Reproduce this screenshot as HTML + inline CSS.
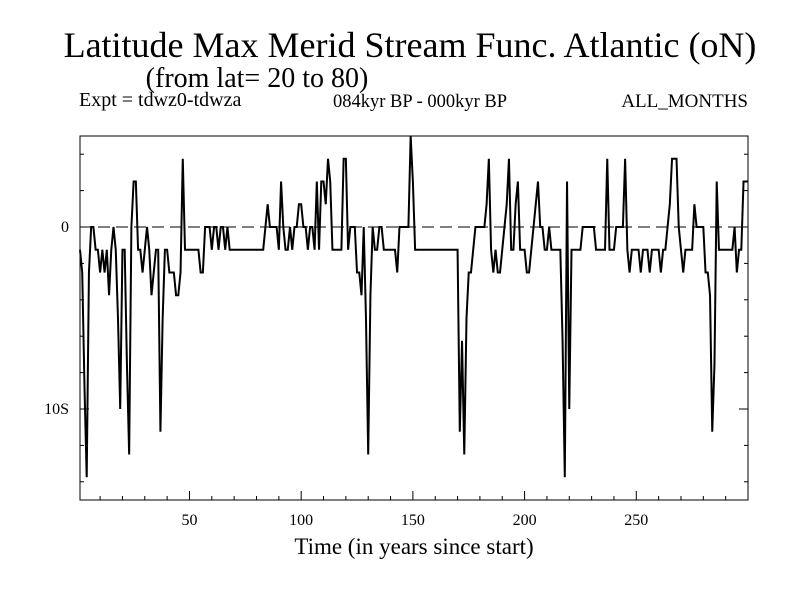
<!DOCTYPE html>
<html><head><meta charset="utf-8"><style>
body{margin:0;background:#fff;}
svg{display:block;font-family:"Liberation Serif",serif;}
</style></head><body>
<svg id="chart" width="800" height="600" viewBox="0 0 800 600">
<rect x="0" y="0" width="800" height="600" fill="#fff"/>
<text x="410" y="57" font-size="36" text-anchor="middle">Latitude Max Merid Stream Func. Atlantic (oN)</text>
<text x="257" y="87" font-size="28" text-anchor="middle">(from lat= 20 to 80)</text>
<text x="79" y="106" font-size="20">Expt = tdwz0-tdwza</text>
<text x="420" y="107" font-size="18.5" text-anchor="middle">084kyr BP - 000kyr BP</text>
<text x="748" y="107" font-size="19" text-anchor="end">ALL_MONTHS</text>
<text x="414" y="554" font-size="23" text-anchor="middle">Time (in years since start)</text>
<g id="axes"></g>
<g id="series"></g>
<rect x="80" y="136" width="668" height="364" fill="none" stroke="#000" stroke-width="1"/>
</svg>
<script>
const years=[];for(let i=1;i<=300;i++)years.push(i);
const values=[
-1.25,-2.5,-8.75,-13.75,-2.5,0,0,-1.25,-1.25,-2.5,
-1.25,-2.5,-1.25,-3.75,-1.25,0,-1.25,-5,-10,-1.25,
-1.25,-7.5,-12.5,0,2.5,2.5,-1.25,-1.25,-2.5,-1.25,
0,-1.25,-3.75,-2.5,-1.25,-1.25,-11.25,-5,-1.25,-1.25,
-2.5,-2.5,-2.5,-3.75,-3.75,-2.5,3.75,-1.25,-1.25,-1.25,
-1.25,-1.25,-1.25,-1.25,-2.5,-2.5,0,0,0,-1.25,
0,0,-1.25,0,0,-1.25,0,-1.25,-1.25,-1.25,
-1.25,-1.25,-1.25,-1.25,-1.25,-1.25,-1.25,-1.25,-1.25,-1.25,
-1.25,-1.25,-1.25,0,1.25,0,0,0,0,-1.25,
2.5,0,-1.25,-1.25,0,-1.25,0,0,1.25,1.25,
0,0,-1.25,0,0,-1.25,2.5,-1.25,2.5,2.5,
1.25,3.75,2.5,-1.25,-1.25,-1.25,-1.25,-1.25,3.75,3.75,
-1.25,0,0,0,-2.5,-2.5,-3.75,0,-5,-12.5,
-3.75,0,-1.25,-1.25,0,0,-1.25,-1.25,-1.25,-1.25,
-1.25,-1.25,-2.5,0,0,0,0,0,5,2.5,
-1.25,-1.25,-1.25,-1.25,-1.25,-1.25,-1.25,-1.25,-1.25,-1.25,
-1.25,-1.25,-1.25,-1.25,-1.25,-1.25,-1.25,-1.25,-1.25,-1.25,
-11.25,-6.25,-12.5,-5,-2.5,-2.5,-1.25,0,0,0,
0,0,1.25,3.75,-1.25,-2.5,-1.25,-2.5,-2.5,-1.25,
0,1.25,3.75,-1.25,-1.25,1.25,2.5,-1.25,-1.25,-1.25,
-2.5,-2.5,-1.25,0,1.25,2.5,0,0,-1.25,-1.25,
0,-1.25,-1.25,-1.25,-1.25,-1.25,-6.25,-13.75,2.5,-10,
-1.25,-1.25,-1.25,-1.25,-1.25,0,0,0,0,0,
0,-1.25,-1.25,-1.25,-1.25,-1.25,3.75,-1.25,-1.25,-1.25,
0,0,0,0,3.75,-1.25,-2.5,-1.25,-1.25,-1.25,
-1.25,-2.5,-1.25,-1.25,-1.25,-2.5,-1.25,-1.25,-1.25,-1.25,
-2.5,-1.25,-1.25,0,1.25,3.75,3.75,3.75,0,-1.25,
-2.5,-1.25,-1.25,-1.25,-1.25,1.25,0,0,0,0,
-2.5,-2.5,-3.75,-11.25,-7.5,2.5,-1.25,-1.25,-1.25,-1.25,
-1.25,-1.25,-1.25,0,-2.5,-1.25,-1.25,2.5,2.5,2.5];
const xTickLabels=[50,100,150,200,250];
const yTickLabels=[{v:0,t:"0"},{v:-10,t:"10S"}];
const X0=80,X1=748,Y0=136,Y1=500,XMIN=1,XMAX=300,YMIN=-15,YMAX=5;
function sx(v){return X0+(v-XMIN)/(XMAX-XMIN)*(X1-X0);}
function sy(v){return Y0+(YMAX-v)/(YMAX-YMIN)*(Y1-Y0);}
const NS="http://www.w3.org/2000/svg";
const ax=document.getElementById('axes');
function line(x1,y1,x2,y2,name,extra){const l=document.createElementNS(NS,'line');l.setAttribute('x1',x1);l.setAttribute('y1',y1);l.setAttribute('x2',x2);l.setAttribute('y2',y2);l.setAttribute('stroke','#000');l.setAttribute('stroke-width','1');if(extra)l.setAttribute('stroke-dasharray',extra);


ax.appendChild(l);return l;}
for(let t=10;t<=300;t+=10){const x=sx(t);const len=(t%50===0)?9:4;line(x,Y1,x,Y1-len,'x-tick');}
for(let v=-14;v<=4;v+=2){const y=sy(v);const len=(v%10===0)?9:4;line(X0,y,X0+len,y,'y-tick-left');line(X1,y,X1-len,y,'y-tick-right');}
line(X0,sy(0),X1,sy(0),'zero-reference-line','12,6');
xTickLabels.forEach(v=>{const t=document.createElementNS(NS,'text');t.setAttribute('x',sx(v));t.setAttribute('y',Y1+25);t.setAttribute('font-size','16');t.setAttribute('text-anchor','middle');t.textContent=v;


ax.appendChild(t);});
yTickLabels.forEach(o=>{const t=document.createElementNS(NS,'text');t.setAttribute('x',X0-11);t.setAttribute('y',sy(o.v)+5);t.setAttribute('font-size','16');t.setAttribute('text-anchor','end');t.textContent=o.t;


ax.appendChild(t);});
const p=document.createElementNS(NS,'polyline');
p.setAttribute('points',values.map((v,i)=>sx(years[i]).toFixed(2)+','+sy(v).toFixed(2)).join(' '));
p.setAttribute('fill','none');p.setAttribute('stroke','#000');p.setAttribute('stroke-width','2');p.setAttribute('stroke-linejoin','miter');


document.getElementById('series').appendChild(p);
</script>
</body></html>
